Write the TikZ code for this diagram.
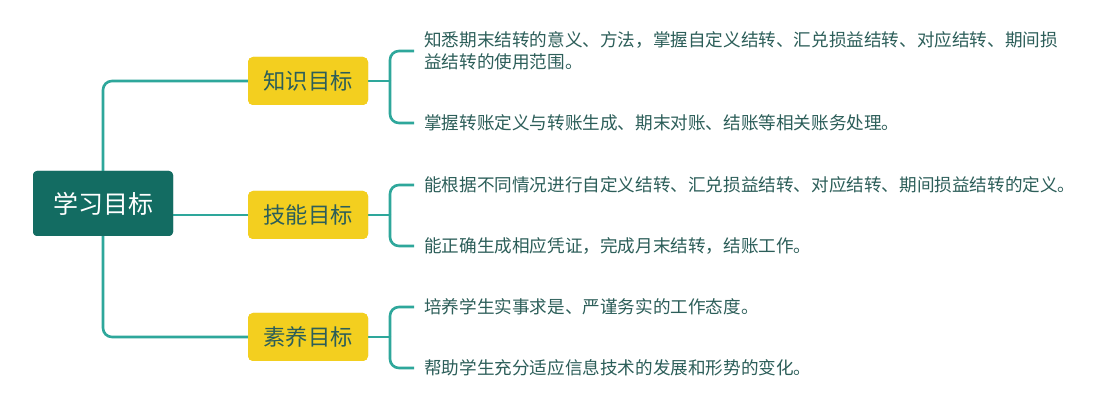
\documentclass[tikz,border=0pt]{standalone}
\usepackage{fontspec}
\setmainfont{Noto Sans CJK SC}
\begin{document}
\begin{tikzpicture}[x=1pt,y=-1pt,
  conn/.style={draw=linec, line width=2.6pt, rounded corners=9pt},
  rootbox/.style={fill=rootc, rounded corners=4pt, minimum width=140pt, minimum height=65pt, text=white, font=\fontsize{25}{29}\selectfont, inner sep=0pt},
  midbox/.style={fill=yelc, rounded corners=5pt, minimum width=120pt, minimum height=48pt, text=txtc, font=\fontsize{22.3}{26}\selectfont, inner sep=0pt},
  leaf/.style={anchor=west, inner sep=0pt, text=txtc, align=left, font=\fontsize{17.6}{22}\selectfont}
]
\definecolor{linec}{HTML}{2EA79B}
\definecolor{rootc}{HTML}{136C62}
\definecolor{yelc}{HTML}{F3CF1F}
\definecolor{txtc}{HTML}{2C5E59}
\useasboundingbox (0,0) rectangle (1096,403);
\fill[white] (0,0) rectangle (1096,403);

\node[rootbox] (root) at (103,203.5) {学习目标};
\node[midbox] (k1) at (308,81) {知识目标};
\node[midbox] (k2) at (308,215) {技能目标};
\node[midbox] (k3) at (308,337) {素养目标};

\node[leaf] (l1a) at (424,51) {知悉期末结转的意义、方法，掌握自定义结转、汇兑损益结转、对应结转、期间损\\益结转的使用范围。};
\node[leaf] (l1b) at (424,123) {掌握转账定义与转账生成、期末对账、结账等相关账务处理。};
\node[leaf] (l2a) at (424,185) {能根据不同情况进行自定义结转、汇兑损益结转、对应结转、期间损益结转的定义。};
\node[leaf] (l2b) at (424,246) {能正确生成相应凭证，完成月末结转，结账工作。};
\node[leaf] (l3a) at (424,307) {培养学生实事求是、严谨务实的工作态度。};
\node[leaf] (l3b) at (424,368) {帮助学生充分适应信息技术的发展和形势的变化。};

\coordinate (j1) at (390,81);
\coordinate (j2) at (390,215);
\coordinate (j3) at (390,337);

\draw[conn] (root.north) |- (k1.west);
\draw[conn] (root.south) |- (k3.west);
\draw[conn] (root.east |- k2.west) -- (k2.west);

\draw[conn] (k1.east) -- (j1);
\draw[conn] (j1) |- ([xshift=-10pt]l1a.west);
\draw[conn] (j1) |- ([xshift=-10pt]l1b.west);
\draw[conn] (k2.east) -- (j2);
\draw[conn] (j2) |- ([xshift=-10pt]l2a.west);
\draw[conn] (j2) |- ([xshift=-10pt]l2b.west);
\draw[conn] (k3.east) -- (j3);
\draw[conn] (j3) |- ([xshift=-10pt]l3a.west);
\draw[conn] (j3) |- ([xshift=-10pt]l3b.west);

\node[rootbox] at (root) {学习目标};
\node[midbox] at (k1) {知识目标};
\node[midbox] at (k2) {技能目标};
\node[midbox] at (k3) {素养目标};
\end{tikzpicture}
\end{document}
